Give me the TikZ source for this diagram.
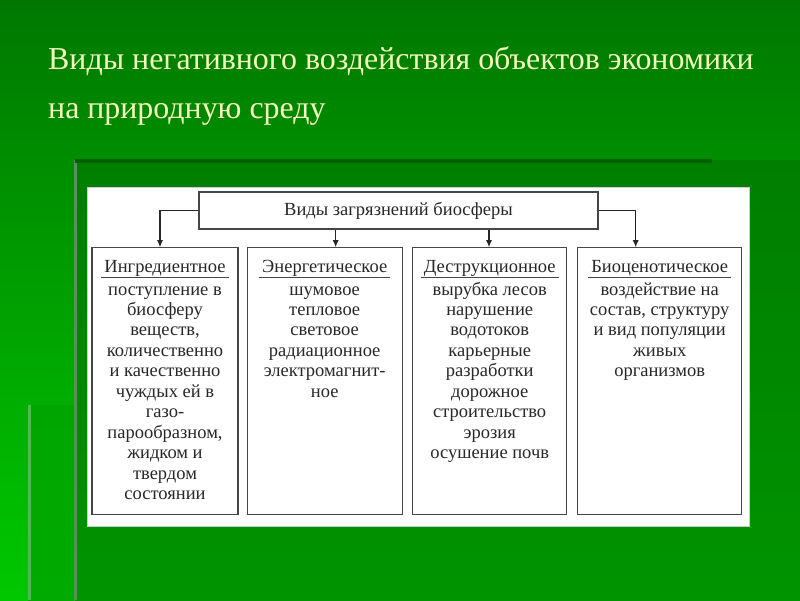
\documentclass[tikz,border=0pt]{standalone}
\usepackage{fontspec}
\setmainfont{Liberation Serif}
\usetikzlibrary{arrows.meta,calc}
\definecolor{bgtop}{RGB}{0,120,0}
\definecolor{bgbot}{RGB}{0,200,0}
\definecolor{paneltop}{RGB}{0,126,0}
\definecolor{panelbot}{RGB}{0,148,0}
\definecolor{striptop}{RGB}{0,166,0}
\definecolor{stripbot}{RGB}{0,170,0}
\definecolor{edgeA}{RGB}{90,145,90}
\definecolor{edgeB}{RGB}{80,185,80}
\definecolor{topline}{RGB}{0,95,0}
\definecolor{titlecol}{RGB}{245,250,190}
\definecolor{ink}{RGB}{40,40,40}
\definecolor{frame}{RGB}{70,70,70}
\tikzset{
  boxshape/.style={draw=frame, line width=1.2pt, fill=white, inner sep=0pt},
  headtext/.style={text=ink, inner sep=0pt, font=\fontsize{18.5}{20.45}\selectfont, anchor=base},
  bodytext/.style={text=ink, inner sep=0pt, font=\fontsize{18.5}{20.45}\selectfont, anchor=base},
  uline/.style={draw=frame, line width=1.2pt},
  conn/.style={draw=black!85, line width=1.1pt, -{Latex[length=7pt,width=6pt]}},
  titletext/.style={text=titlecol, inner sep=0pt, anchor=base west, font=\fontsize{31.9}{49}\selectfont}
}
\newcommand{\bodylines}[1]{\setlength{\tabcolsep}{0pt}\renewcommand{\arraystretch}{1}\begin{tabular}[t]{c}#1\end{tabular}}
\begin{document}
\begin{tikzpicture}[x=1pt,y=-1pt]
\useasboundingbox (0,0) rectangle (800,600);
% background
\shade[top color=bgtop, bottom color=bgbot] (0,0) rectangle (800,600);
\shade[top color=paneltop, bottom color=panelbot] (75,160) rectangle (800,600);
\fill[edgeA] (74,160) rectangle (77,600);
\fill[topline] (75,159) rectangle (712,163);
\shade[top color=striptop, bottom color=stripbot] (28,405) rectangle (74,600);
\fill[edgeB] (28,405) rectangle (31,600);
% title
\node[titletext] (title1) at (48,69) {Виды негативного воздействия объектов экономики};
\node[titletext] (title2) at (48,118) {на природную среду};
% white panel
\fill[white] (87,187) rectangle (749,526);
\draw[black!20, line width=0.6pt] (87,187) rectangle (749,526);
% top box
\node[boxshape, minimum width=399pt, minimum height=37pt, text=ink, font=\fontsize{18.5}{20.45}\selectfont] (top) at (398.5,210.5) {Виды загрязнений биосферы};
% category boxes
\node[boxshape, minimum width=146pt, minimum height=267pt] (b1) at (165,381.3) {};
\node[boxshape, minimum width=155pt, minimum height=267pt] (b2) at (324.7,381.3) {};
\node[boxshape, minimum width=154pt, minimum height=267pt] (b3) at (489.7,381.3) {};
\node[boxshape, minimum width=164pt, minimum height=267pt] (b4) at (659.7,381.3) {};
% headings
\node[headtext] (h1) at (165,272) {Ингредиентное};
\node[headtext] (h2) at (324.7,272) {Энергетическое};
\node[headtext] (h3) at (489.7,272) {Деструкционное};
\node[headtext] (h4) at (659.7,272) {Биоценотическое};
\foreach \h in {h1,h2,h3,h4}{
  \draw[uline] ([shift={(-3,5.5)}]\h.base west) -- ([shift={(3,5.5)}]\h.base east);
}
% body texts
\node[bodytext] (t1) at (165,295) {\bodylines{поступление в\\биосферу\\веществ,\\количественно\\и качественно\\чуждых ей в\\газо-\\парообразном,\\жидком и\\твердом\\состоянии}};
\node[bodytext] (t2) at (324.7,295) {\bodylines{шумовое\\тепловое\\световое\\радиационное\\электромагнит-\\ное}};
\node[bodytext] (t3) at (489.7,295) {\bodylines{вырубка лесов\\нарушение\\водотоков\\карьерные\\разработки\\дорожное\\строительство\\эрозия\\осушение почв}};
\node[bodytext] (t4) at (659.7,295) {\bodylines{воздействие на\\состав, структуру\\и вид популяции\\живых\\организмов}};
% connectors
\coordinate (a1) at ([xshift=-5pt]b1.north);
\coordinate (a2) at ([xshift=11pt]b2.north);
\coordinate (a3) at ([xshift=-0.7pt]b3.north);
\coordinate (a4) at ([xshift=-24pt]b4.north);
\draw[conn] (top.west) -| (a1);
\draw[conn] (a2 |- top.south) -- (a2);
\draw[conn] (a3 |- top.south) -- (a3);
\draw[conn] (top.east) -| (a4);
\end{tikzpicture}
\end{document}
